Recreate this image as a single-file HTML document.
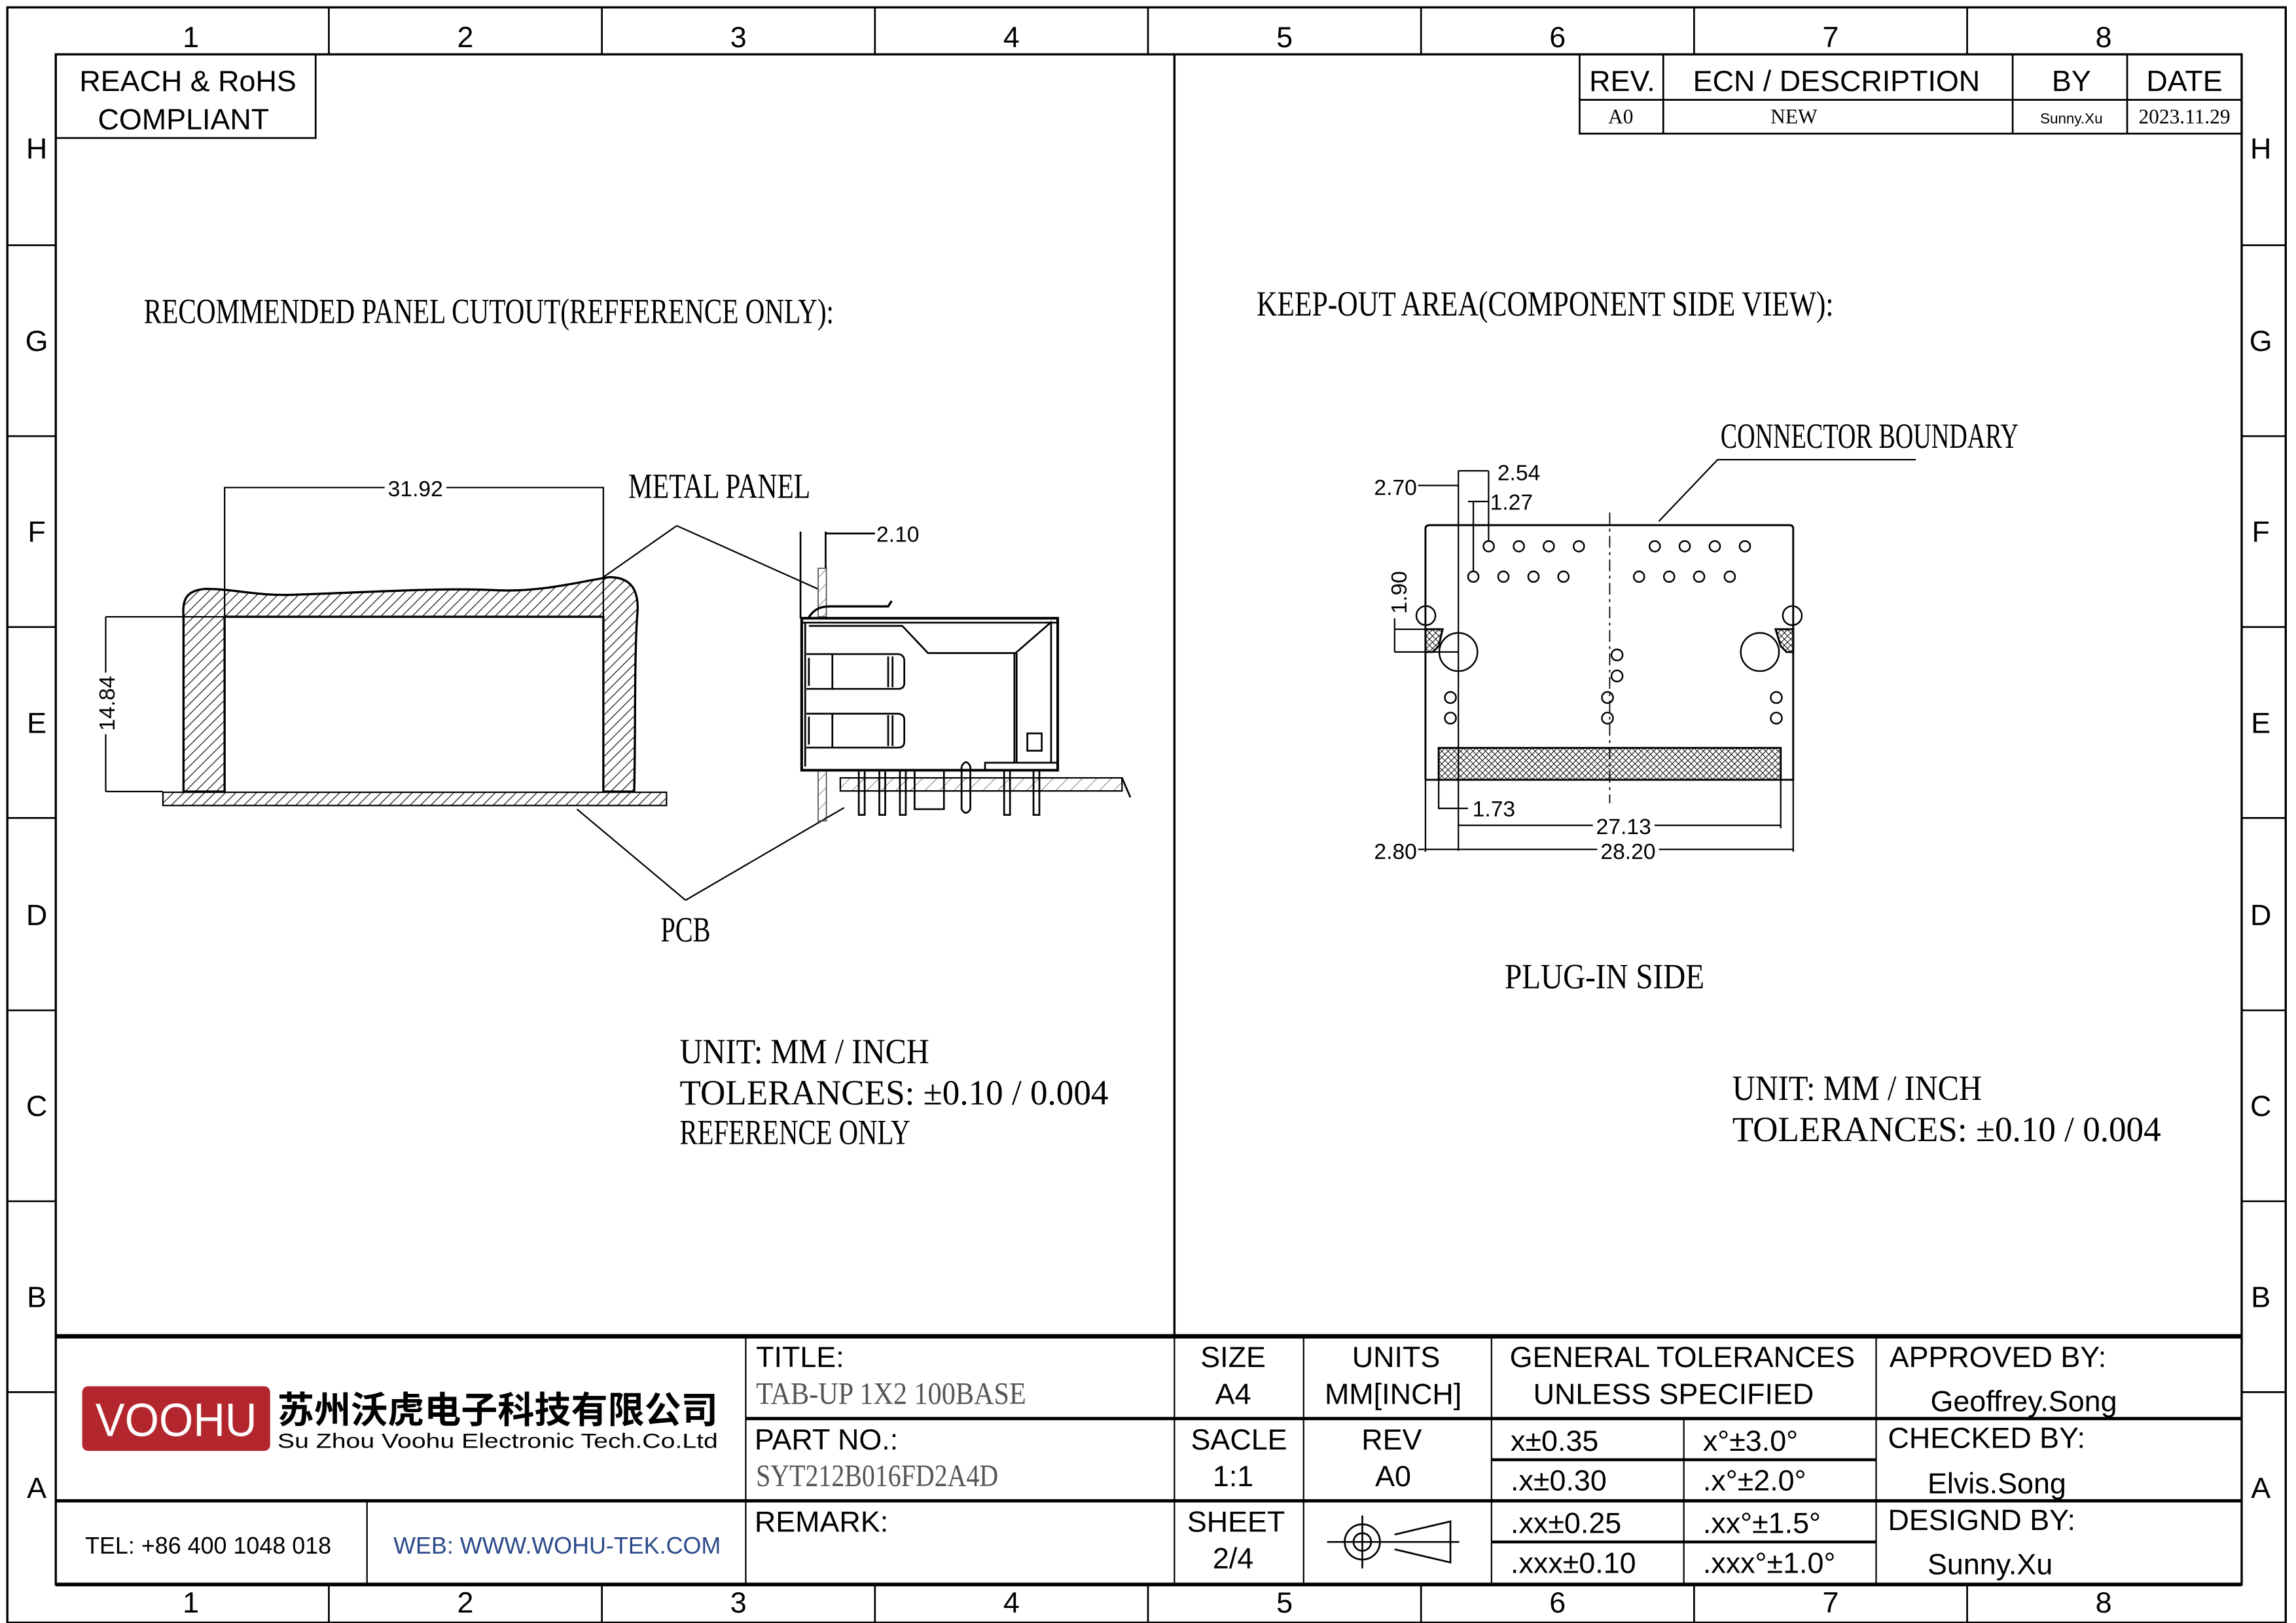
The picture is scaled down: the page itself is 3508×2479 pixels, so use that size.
<!DOCTYPE html>
<html><head><meta charset="utf-8"><style>html,body{margin:0;padding:0;background:#fff}svg{display:block}</style></head><body>
<svg width="3508" height="2479" viewBox="0 0 1564 1105.2" preserveAspectRatio="none" xmlns="http://www.w3.org/2000/svg">
<defs>
<pattern id="h" width="5" height="5" patternUnits="userSpaceOnUse" patternTransform="rotate(45)"><line x1="0" y1="0" x2="0" y2="5" stroke="#000" stroke-width="1"/></pattern>
<pattern id="hl" width="7" height="7" patternUnits="userSpaceOnUse" patternTransform="rotate(45)"><line x1="0" y1="0" x2="0" y2="7" stroke="#444" stroke-width="0.6"/></pattern>
<pattern id="x" width="3" height="3" patternUnits="userSpaceOnUse" patternTransform="rotate(45)"><path d="M0 0V3M0 0H3" stroke="#000" stroke-width="0.9"/></pattern>
</defs>
<rect width="1564" height="1105.2" fill="#fff"/>
<g fill="none" stroke="#000">
<rect x="5" y="5" width="1552" height="1100" stroke-width="1.5"/>
<rect x="38" y="37" width="1489" height="1042" stroke-width="1.5"/>
<path d="M224 5V37M410 5V37M596 5V37M782 5V37M968 5V37M1154 5V37M1340 5V37M224 1079V1105M410 1079V1105M596 1079V1105M782 1079V1105M968 1079V1105M1154 1079V1105M1340 1079V1105" stroke-width="1.2"/>
<path d="M5 167H38M5 297H38M5 427H38M5 557H38M5 688H38M5 818H38M5 948H38M1527 167H1557M1527 297H1557M1527 427H1557M1527 557H1557M1527 688H1557M1527 818H1557M1527 948H1557" stroke-width="1.2"/>
<path d="M800 37V910" stroke-width="1.5"/>
<rect x="38" y="37" width="177" height="57" stroke-width="1.2"/>
<path d="M1076 37V91H1527M1076 68H1527M1133 37V91M1371 37V91M1449 37V91" stroke-width="1.2"/>
<path d="M38 910H1527" stroke-width="3"/>
<path d="M508 966H1527M38 1022H1527" stroke-width="2.2"/>
<path d="M1016 994H1278M1016 1050H1278" stroke-width="2"/>
<path d="M508 910V1079M800 910V1079M888 910V1079M1016 910V1079M1278 910V1079M1147 966V1079M250 1022V1079" stroke-width="1"/>
<path d="M38 1079H1527" stroke-width="2.5"/>
</g>
<g font-family="Liberation Sans, sans-serif" font-size="20" text-anchor="middle" fill="#000">
<text x="130" y="32">1</text><text x="317" y="32">2</text><text x="503" y="32">3</text><text x="689" y="32">4</text><text x="875" y="32">5</text><text x="1061" y="32">6</text><text x="1247" y="32">7</text><text x="1433" y="32">8</text>
<text x="130" y="1098">1</text><text x="317" y="1098">2</text><text x="503" y="1098">3</text><text x="689" y="1098">4</text><text x="875" y="1098">5</text><text x="1061" y="1098">6</text><text x="1247" y="1098">7</text><text x="1433" y="1098">8</text>
<text x="25" y="108">H</text><text x="25" y="239">G</text><text x="25" y="369">F</text><text x="25" y="499">E</text><text x="25" y="630">D</text><text x="25" y="760">C</text><text x="25" y="890">B</text><text x="25" y="1020">A</text>
<text x="1540" y="108">H</text><text x="1540" y="239">G</text><text x="1540" y="369">F</text><text x="1540" y="499">E</text><text x="1540" y="630">D</text><text x="1540" y="760">C</text><text x="1540" y="890">B</text><text x="1540" y="1020">A</text>
<text x="128" y="62">REACH &amp; RoHS</text><text x="125" y="88">COMPLIANT</text>
<text x="1105" y="62">REV.</text><text x="1251" y="62">ECN / DESCRIPTION</text><text x="1411" y="62">BY</text><text x="1488" y="62">DATE</text>
</g>
<g font-family="Liberation Serif, serif" font-size="14" text-anchor="middle" fill="#000">
<text x="1104" y="84">A0</text><text x="1222" y="84">NEW</text><text x="1488" y="84">2023.11.29</text>
<text x="1411" y="84" font-family="Liberation Sans, sans-serif" font-size="10">Sunny.Xu</text>
</g>
<g font-family="Liberation Sans, sans-serif" font-size="20" fill="#000">
<text x="515" y="931">TITLE:</text><text x="514" y="987">PART NO.:</text><text x="514" y="1043">REMARK:</text>
<g text-anchor="middle"><text x="840" y="931">SIZE</text><text x="840" y="956">A4</text><text x="844" y="987">SACLE</text><text x="840" y="1012">1:1</text><text x="842" y="1043">SHEET</text><text x="840" y="1068">2/4</text>
<text x="951" y="931">UNITS</text><text x="949" y="956">MM[INCH]</text><text x="948" y="987">REV</text><text x="949" y="1012">A0</text>
<text x="1146" y="931">GENERAL TOLERANCES</text><text x="1140" y="956">UNLESS SPECIFIED</text></g>
<text x="1029" y="988">x±0.35</text><text x="1160" y="988">x°±3.0°</text><text x="1029" y="1015">.x±0.30</text><text x="1160" y="1015">.x°±2.0°</text>
<text x="1029" y="1044">.xx±0.25</text><text x="1160" y="1044">.xx°±1.5°</text><text x="1029" y="1071">.xxx±0.10</text><text x="1160" y="1071">.xxx°±1.0°</text>
<text x="1287" y="931">APPROVED BY:</text><text x="1315" y="961">Geoffrey.Song</text><text x="1286" y="986">CHECKED BY:</text><text x="1313" y="1017">Elvis.Song</text><text x="1286" y="1042">DESIGND BY:</text><text x="1313" y="1072">Sunny.Xu</text>
<text x="58" y="1058" font-size="16">TEL: +86 400 1048 018</text>
<text x="268" y="1058" font-size="16" fill="#2b4a8a">WEB: WWW.WOHU-TEK.COM</text>
</g>
<g font-family="Liberation Serif, serif" font-size="21" fill="#555">
<text x="515" y="956" textLength="184" lengthAdjust="spacingAndGlyphs">TAB-UP  1X2  100BASE</text>
<text x="515" y="1012" textLength="165" lengthAdjust="spacingAndGlyphs">SYT212B016FD2A4D</text>
</g>
<rect x="56" y="944" width="128" height="44" rx="4" fill="#b3262d"/>
<text x="120" y="978" font-family="Liberation Sans, sans-serif" font-size="32" fill="#fff" text-anchor="middle" textLength="110" lengthAdjust="spacingAndGlyphs">VOOHU</text>
<text x="189" y="969" font-family="Liberation Sans, 'Noto Sans CJK SC', sans-serif" font-size="25" font-weight="bold" textLength="300" lengthAdjust="spacingAndGlyphs">苏州沃虎电子科技有限公司</text>
<text x="189" y="986" font-family="Liberation Sans, sans-serif" font-size="14" textLength="300" lengthAdjust="spacingAndGlyphs">Su Zhou Voohu Electronic Tech.Co.Ltd</text>
<g fill="none" stroke="#000" stroke-width="1.2">
<circle cx="928" cy="1050" r="12"/><circle cx="928" cy="1050" r="6"/>
<path d="M904 1050H994M928 1032V1068M950 1045L988 1036V1064L950 1055"/>
</g>
<g font-family="Liberation Serif, serif" font-size="24" fill="#000">
<text x="98" y="220" textLength="470" lengthAdjust="spacingAndGlyphs">RECOMMENDED  PANEL  CUTOUT(REFFERENCE  ONLY):</text>
<text x="428" y="339" textLength="124" lengthAdjust="spacingAndGlyphs">METAL  PANEL</text>
<text x="450" y="641" textLength="34" lengthAdjust="spacingAndGlyphs">PCB</text>
<text x="463" y="724" textLength="170" lengthAdjust="spacingAndGlyphs">UNIT:  MM  /  INCH</text>
<text x="463" y="752" textLength="292" lengthAdjust="spacingAndGlyphs">TOLERANCES:  ±0.10  /  0.004</text>
<text x="463" y="779" textLength="157" lengthAdjust="spacingAndGlyphs">REFERENCE  ONLY</text>
<text x="856" y="215" textLength="393" lengthAdjust="spacingAndGlyphs">KEEP-OUT  AREA(COMPONENT  SIDE  VIEW):</text>
<text x="1172" y="305" textLength="203" lengthAdjust="spacingAndGlyphs">CONNECTOR  BOUNDARY</text>
<text x="1025" y="673" textLength="136" lengthAdjust="spacingAndGlyphs">PLUG-IN  SIDE</text>
<text x="1180" y="749" textLength="170" lengthAdjust="spacingAndGlyphs">UNIT:  MM  /  INCH</text>
<text x="1180" y="777" textLength="292" lengthAdjust="spacingAndGlyphs">TOLERANCES:  ±0.10  /  0.004</text>
</g>
<path d="M125 539 L125 420 C124 408 127 402 140 401 C160 401 175 406 200 405 C260 403 300 400 340 402 C370 403 395 396 415 393 C430 393 436 402 434 420 C432 450 433 500 432 539 L411 539 L411 420 L153 420 L153 539 Z" fill="url(#h)" stroke="#000" stroke-width="1.5"/>
<rect x="111" y="539.5" width="343" height="9" fill="url(#h)" stroke="#000" stroke-width="1"/>
<g fill="none" stroke="#000" stroke-width="1">
<path d="M153 420V332H411V420M411 332V393"/>
<path d="M72 420V539M72 420H153M72 539H111"/>
<path d="M461 358L411 393M461 358L557 401M467 613L393 551M467 613L575 550"/>
</g>
<g font-family="Liberation Sans, sans-serif" font-size="15" fill="#000">
<rect x="262" y="324" width="42" height="14" fill="#fff"/>
<text x="283" y="338" text-anchor="middle">31.92</text>
<rect x="64" y="458" width="16" height="42" fill="#fff"/>
<text transform="translate(78,479) rotate(-90)" text-anchor="middle">14.84</text>
<text x="597" y="369">2.10</text>
</g>
<g fill="none" stroke="#000" stroke-width="1.2">
<rect x="557.3" y="387" width="5.6" height="33" fill="url(#hl)" stroke="#444" stroke-width="0.7"/>
<rect x="557.3" y="525" width="5.6" height="34" fill="url(#hl)" stroke="#444" stroke-width="0.7"/>
<path d="M545.3 362V421M562.4 362V387M562.4 363.3H596"/>
<path d="M551 420.3C555 414 560 413 565 412.9H605L607.4 409.2" stroke-width="1.5"/>
<rect x="546.1" y="421" width="174.4" height="103.5" stroke-width="1.8"/>
<path d="M546.1 424H720.5M548.5 424V522M551 426.2H614.6L632.1 444.7H691.8L716.5 423.2M691 444.7V519.4M692.5 444.7V519.4M716 424V520"/>
<path d="M549.3 445.4H612Q616 446 616 450V465Q616 469 612 469.1H549.3M551 448V467M567 446V469M605 447V468M608 447V468"/>
<path d="M549.3 486H612Q616 486.5 616 490V505Q616 509 612 509.1H549.3M551 488V507M567 486V509M605 487V508M608 487V508"/>
<rect x="699.8" y="499.4" width="9.8" height="11.8"/>
<path d="M671 524.5V519.4H720.5"/>
<rect x="572.4" y="529.7" width="191.9" height="8.9" fill="url(#hl)" stroke-width="1"/>
<path d="M764.3 529.7L770 543"/>
<path d="M585 524.5V554.9H589V524.5M599 524.5V554.9H603V524.5M613 524.5V554.9H617V524.5M623 524.5V551H643V524.5M655 522V551Q658 556 661 551V522Q658 516 655 522M684 524.5V554.9H688V524.5M704 524.5V554.9H708V524.5"/>
</g>
<g fill="none" stroke="#000" stroke-width="1.3">
<path d="M971 531V360Q971 357.6 974 357.6H1219Q1221.5 357.6 1221.5 360V531H971"/>
<rect x="980" y="509.3" width="233" height="21.7" fill="url(#x)"/>
<path d="M971 428.5H982.7L980 440L976 444H971Z" fill="url(#x)"/>
<path d="M1221.5 428.5H1209.5L1213 440L1217 444H1221.5Z" fill="url(#x)"/>
<path d="M1096.5 349V547" stroke-dasharray="8 3 2 3" stroke-width="0.8"/>
<g stroke-width="1.1">
<circle cx="1014.1" cy="372" r="3.6"/><circle cx="1034.6" cy="372" r="3.6"/><circle cx="1055" cy="372" r="3.6"/><circle cx="1075.5" cy="372" r="3.6"/>
<circle cx="1127.2" cy="372" r="3.6"/><circle cx="1147.6" cy="372" r="3.6"/><circle cx="1168.1" cy="372" r="3.6"/><circle cx="1188.6" cy="372" r="3.6"/>
<circle cx="1003.6" cy="392.7" r="3.6"/><circle cx="1024.1" cy="392.7" r="3.6"/><circle cx="1044.6" cy="392.7" r="3.6"/><circle cx="1065" cy="392.7" r="3.6"/>
<circle cx="1116.5" cy="392.7" r="3.6"/><circle cx="1137" cy="392.7" r="3.6"/><circle cx="1157.4" cy="392.7" r="3.6"/><circle cx="1178.3" cy="392.7" r="3.6"/>
<circle cx="993.4" cy="444" r="13"/><circle cx="1198.8" cy="444" r="13"/>
<circle cx="971.3" cy="419.2" r="6.5"/><circle cx="1220.9" cy="419.2" r="6.5"/>
<circle cx="1101.5" cy="446" r="3.8"/><circle cx="1101.5" cy="460.3" r="3.8"/>
<circle cx="1095" cy="475" r="3.8"/><circle cx="1095" cy="489" r="3.8"/>
<circle cx="988" cy="475" r="3.8"/><circle cx="988" cy="489" r="3.8"/>
<circle cx="1210" cy="475" r="3.8"/><circle cx="1210" cy="489" r="3.8"/>
</g>
<g stroke-width="1">
<path d="M993.4 320.6V579.3M971 531V580M1221.5 531V580M980 531V551M1213 531V564"/>
<path d="M966 330.6H993.4M993.4 320.6H1014M1014 320.6V368M1000 341.5H1014M1003.6 341.5V389"/>
<path d="M950 428.5H982.7M950 444H993.4M950 421V444"/>
<path d="M980 550.5H1000M993.4 562H1213M966 578.4H1221.5"/>
<path d="M1130 355L1170 313H1305"/>
</g>
</g>
<g font-family="Liberation Sans, sans-serif" font-size="15" fill="#000">
<text x="936" y="337">2.70</text>
<text x="1020" y="327">2.54</text>
<text x="1015" y="347">1.27</text>
<text transform="translate(958,418) rotate(-90)">1.90</text>
<text x="1003" y="556">1.73</text>
<rect x="1085" y="555" width="42" height="14" fill="#fff"/><text x="1106" y="568" text-anchor="middle">27.13</text>
<text x="936" y="585">2.80</text>
<rect x="1088" y="571" width="42" height="14" fill="#fff"/><text x="1109" y="585" text-anchor="middle">28.20</text>
</g>
</svg>
</body></html>
